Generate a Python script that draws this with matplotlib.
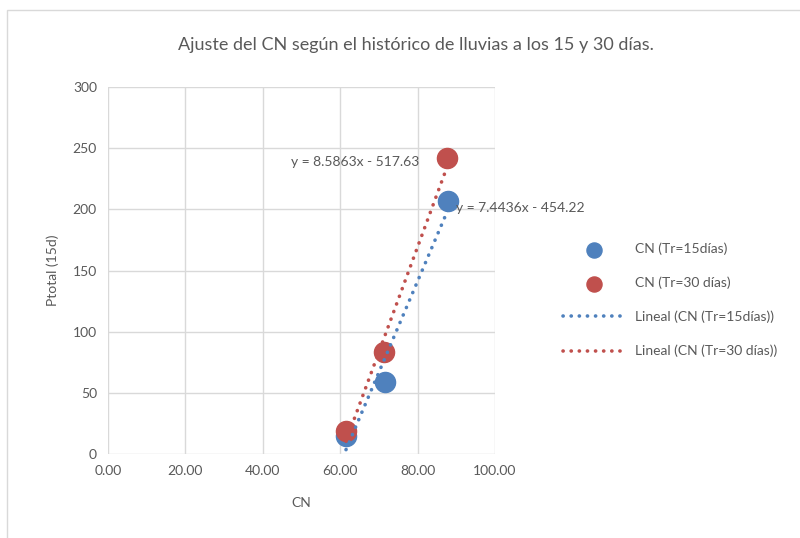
import numpy as np
import matplotlib
matplotlib.use("Agg")
import matplotlib.pyplot as plt
from matplotlib.patches import Rectangle

# --- data --------------------------------------------------------------------
cn_15 = [61.5, 71.5, 87.8]
p_15 = [15, 59, 207]
cn_30 = [61.5, 71.3, 87.7]
p_30 = [19, 83, 242]
# trendline coefficients as printed on the chart
fit_15 = (7.4436, -454.22)
fit_30 = (8.5863, -517.63)
labels = ["CN (Tr=15días)", "CN (Tr=30 días)",
          "Lineal (CN (Tr=15días))", "Lineal (CN (Tr=30 días))"]
x_ticks = [0, 20, 40, 60, 80, 100]
y_ticks = [0, 50, 100, 150, 200, 250, 300]

BLUE, RED = "#4F81BD", "#C0504D"
GRID, TXT = "#D9D9D9", "#595959"

plt.rcParams.update({"font.family": ["Lato", "DejaVu Sans"], "text.color": TXT})

fig = plt.figure(figsize=(8.0, 5.38), dpi=100)
fig.patches.append(Rectangle((7 / 800, -0.1), 1.0, 1 - 10 / 538 + 0.1, transform=fig.transFigure,
                             fc="white", ec=GRID, lw=1.0, zorder=-1))
ax = fig.add_axes([108 / 800, 1 - 454 / 538, 387 / 800, 367 / 538])

ax.set_xlim(0, 100)
ax.set_ylim(0, 300)
ax.set_xticks(x_ticks)
ax.set_yticks(y_ticks)
ax.set_xticklabels([f"{v:.2f}" for v in x_ticks])
ax.grid(True, color=GRID, lw=1.0)
ax.set_axisbelow(True)
for s in ax.spines.values():
    s.set_visible(False)
ax.tick_params(length=0, labelsize=10, colors=TXT, pad=8)

ax.scatter(cn_15, p_15, s=210, color=BLUE, zorder=3, label=labels[0])
ax.scatter(cn_30, p_30, s=210, color=RED, zorder=3, label=labels[1])

# dotted linear trendlines over the data range
for xs, (m, b), c, lab in [(cn_15, fit_15, BLUE, labels[2]), (cn_30, fit_30, RED, labels[3])]:
    xx = np.array([min(xs), max(xs)])
    ax.plot(xx, m * xx + b, color=c, lw=2.6, ls=(0, (0.05, 2.2)), dash_capstyle="round",
            zorder=4, label=lab)

ax.text(47.3, 239, f"y = {fit_30[0]}x - {-fit_30[1]:.2f}", fontsize=10,
        color=TXT, va="center", ha="left")
ax.text(90.0, 201, f"y = {fit_15[0]}x - {-fit_15[1]:.2f}", fontsize=10,
        color=TXT, va="center", ha="left")

ax.set_xlabel("CN", fontsize=10, color=TXT, labelpad=14)
ax.set_ylabel("Ptotal (15d)", fontsize=10, color=TXT, labelpad=10)
fig.text(416 / 800, 1 - 45 / 538, "Ajuste del CN según el histórico de lluvias a los 15 y 30 días.",
         fontsize=13, color=TXT, ha="center", va="center")

hs, ls_ = ax.get_legend_handles_labels()
fig.legend(hs, ls_, loc="center left", bbox_to_anchor=(550 / 800, 1 - 300 / 538),
           frameon=False, fontsize=10, labelspacing=1.55, handlelength=4.6,
           handletextpad=0.6, scatterpoints=1, markerscale=0.75, labelcolor=TXT)

fig.savefig("out.png", dpi=100)
